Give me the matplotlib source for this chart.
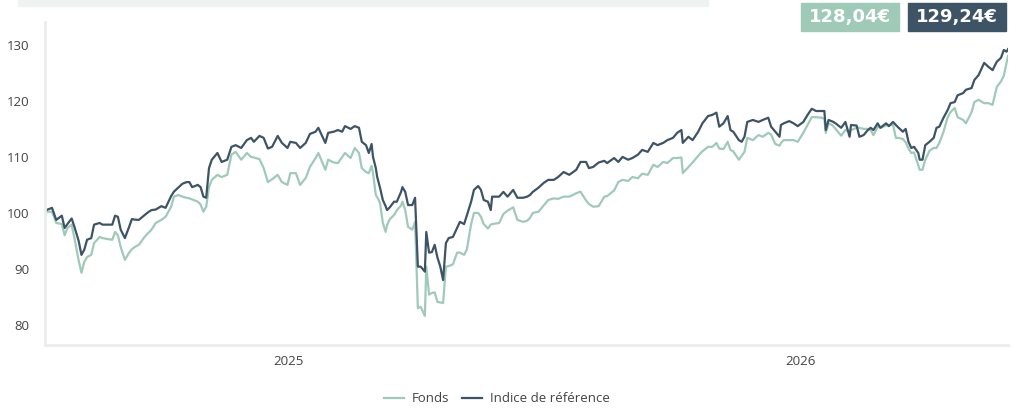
import pandas as pd
import matplotlib.pyplot as plt
from matplotlib.patches import Rectangle

# days since the first point (2024-07-11)
debut = "2024-07-11"
jours = [0, 1, 5, 8, 12, 14, 16, 19, 21, 24, 26, 28, 30, 33, 35, 39, 41, 45, 48, 50,
         52, 54, 57, 60, 62, 64, 67, 71, 74, 76, 79, 83, 86, 90, 92, 95, 98, 101, 103, 105,
         109, 111, 113, 115, 117, 119, 123, 126, 130, 133, 136, 140, 144, 147, 149, 153, 156, 159, 162, 166,
         169, 173, 175, 179, 182, 186, 189, 193, 195, 198, 200, 202, 206, 209, 212, 214, 218, 221, 224, 226,
         229, 231, 233, 234, 236, 237, 239, 241, 243, 244, 246, 249, 251, 254, 255, 257, 259, 262, 264, 266,
         268, 271, 272, 274, 276, 278, 280, 282, 284, 286, 288, 291, 294, 296, 299, 301, 304, 306, 309, 311,
         313, 316, 318, 319, 324, 327, 330, 334, 337, 341, 344, 346, 348, 352, 356, 359, 363, 366, 370, 374,
         379, 382, 386, 388, 391, 395, 399, 401, 406, 409, 412, 416, 419, 423, 426, 430, 434, 437, 441, 444,
         448, 451, 454, 455, 459, 462, 466, 469, 473, 476, 479, 481, 484, 487, 489, 491, 495, 497, 499, 501,
         505, 509, 512, 516, 518, 521, 524, 525, 527, 531, 534, 537, 541, 544, 547, 550, 554, 556, 557, 559,
         562, 564, 568, 571, 574, 575, 579, 581, 584, 587, 589, 591, 594, 596, 600, 602, 605, 607, 609, 612,
         614, 616, 618, 620, 623, 624, 626, 628, 631, 634, 636, 638, 641, 644, 646, 649, 651, 655, 657, 661,
         663, 666, 670, 673, 676, 679, 682, 684, 686, 687]

indice = [100.2, 100.5, 100.9, 98.75, 99.5, 97.3, 98.0, 99.0, 97.5, 95.0, 92.5, 93.4, 95.2, 95.5, 97.9, 98.2, 97.9, 97.9, 97.9, 99.5,
          99.3, 97.0, 95.5, 97.5, 98.9, 98.8, 98.75, 99.6, 100.2, 100.5, 100.6, 101.2, 100.9, 103.0, 103.8, 104.5, 105.2, 105.5, 105.5, 104.6,
          105.0, 104.6, 102.9, 102.7, 108.0, 109.5, 110.7, 109.1, 109.5, 111.8, 112.1, 111.6, 113.0, 113.4, 112.7, 113.75, 113.4, 111.5, 111.8, 113.75,
          112.5, 111.6, 112.7, 112.5, 111.6, 112.5, 114.1, 114.5, 115.2, 113.6, 112.5, 114.3, 114.5, 114.8, 114.5, 115.5, 115.0, 115.5, 115.2, 112.7,
          112.1, 110.7, 112.3, 110.0, 108.0, 106.4, 104.5, 102.3, 101.2, 100.5, 101.0, 102.0, 102.0, 103.75, 104.6, 103.75, 101.4, 101.4, 102.7, 90.4,
          90.4, 89.5, 96.6, 92.9, 93.0, 94.3, 92.0, 90.4, 88.0, 94.6, 95.5, 95.7, 97.3, 98.4, 98.0, 99.6, 102.0, 104.1, 104.8, 104.1,
          102.3, 102.0, 100.5, 102.9, 102.9, 103.75, 102.9, 104.1, 102.7, 102.7, 102.9, 103.2, 103.75, 104.5, 105.4, 105.9, 105.9, 106.4, 107.3, 106.8,
          107.7, 109.1, 109.1, 108.0, 108.2, 109.0, 109.3, 108.9, 109.8, 109.1, 110.0, 109.5, 109.8, 110.4, 111.25, 110.9, 112.5, 112.1, 112.5, 113.0,
          113.4, 114.3, 114.8, 112.5, 113.6, 113.0, 114.5, 116.0, 117.3, 117.5, 117.9, 115.4, 116.0, 117.3, 114.8, 114.5, 113.0, 112.7, 113.6, 116.25,
          116.6, 116.25, 116.6, 117.0, 115.4, 114.5, 113.6, 115.7, 116.0, 116.4, 116.0, 115.5, 116.25, 117.5, 118.6, 118.2, 118.2, 118.2, 114.8, 116.6,
          116.3, 116.0, 115.2, 116.25, 113.6, 115.7, 115.6, 113.6, 113.9, 114.8, 115.2, 114.8, 116.0, 115.2, 116.0, 115.5, 116.25, 115.7, 115.2, 114.5,
          115.0, 112.7, 111.6, 111.8, 110.7, 109.5, 109.5, 112.1, 112.7, 113.4, 115.2, 115.4, 117.0, 118.4, 119.6, 119.8, 121.0, 121.4, 122.0, 122.3,
          123.75, 124.6, 126.8, 126.1, 125.5, 127.0, 127.7, 129.1, 128.8, 129.24]

fonds = [100.0, 100.2, 100.2, 98.2, 98.0, 96.0, 97.3, 97.9, 95.5, 91.5, 89.3, 91.25, 92.1, 92.5, 94.6, 95.7, 95.5, 95.3, 95.2, 96.6,
         96.0, 93.9, 91.6, 92.9, 93.5, 93.9, 94.3, 95.7, 96.5, 97.0, 98.2, 98.75, 99.3, 101.1, 102.9, 103.2, 102.9, 102.7, 102.6, 102.4,
         102.0, 101.5, 100.2, 101.1, 104.6, 105.9, 106.8, 106.4, 106.8, 110.4, 110.9, 109.5, 110.7, 110.0, 109.9, 109.6, 108.0, 105.5, 106.0, 106.8,
         105.5, 105.0, 107.1, 107.1, 105.0, 106.25, 108.2, 109.8, 110.7, 108.9, 107.7, 109.5, 109.0, 108.9, 110.0, 110.7, 109.8, 111.6, 110.7, 108.0,
         107.3, 107.1, 108.4, 107.1, 103.2, 102.8, 101.8, 98.2, 96.6, 97.8, 98.9, 99.6, 100.5, 101.3, 102.0, 100.5, 97.5, 97.0, 98.4, 83.0,
         83.2, 81.6, 90.4, 85.4, 85.7, 85.8, 84.1, 84.0, 83.9, 90.4, 90.5, 90.8, 92.9, 92.9, 92.5, 93.5, 98.0, 100.0, 100.0, 99.3,
         98.0, 97.2, 97.9, 98.0, 98.2, 99.8, 100.4, 101.0, 98.75, 98.4, 98.6, 99.1, 100.0, 100.2, 101.4, 102.3, 102.6, 102.5, 102.9, 102.9,
         103.5, 103.8, 102.2, 101.6, 101.1, 101.2, 102.9, 103.0, 104.0, 105.5, 105.9, 105.7, 106.4, 106.2, 107.0, 106.8, 108.6, 108.2, 109.1, 108.9,
         109.8, 109.8, 109.9, 107.1, 108.2, 109.0, 110.2, 111.0, 111.8, 111.8, 112.5, 111.5, 111.4, 112.7, 111.25, 111.0, 109.5, 110.2, 110.9, 113.4,
         113.0, 113.9, 113.6, 114.3, 114.0, 112.3, 112.0, 112.5, 113.0, 113.0, 113.0, 112.7, 114.3, 115.7, 117.1, 117.1, 117.0, 116.8, 114.3, 116.0,
         115.6, 115.0, 113.8, 114.8, 114.6, 114.8, 115.2, 115.2, 115.0, 115.0, 114.8, 113.9, 115.4, 115.2, 115.6, 115.7, 115.7, 113.4, 113.4, 113.2,
         112.6, 111.5, 110.7, 110.8, 108.5, 107.7, 107.7, 109.5, 111.1, 111.6, 111.6, 112.5, 114.5, 117.1, 118.0, 118.75, 117.1, 116.6, 116.0, 118.0,
         119.8, 120.2, 119.6, 119.6, 119.3, 122.5, 123.5, 124.5, 126.8, 128.04]

annees = ["2025-01-01", "2026-01-01"]
annees_labels = ["2025", "2026"]
yticks = [80, 90, 100, 110, 120, 130]
derniers = ["128,04€", "129,24€"]

dates = pd.Timestamp(debut) + pd.to_timedelta(jours, unit="D")
vert = "#9fcab8"
bleu = "#3d5466"

plt.rcParams["font.family"] = ["Open Sans", "DejaVu Sans"]

W, H = 1013, 408
fig = plt.figure(figsize=(W / 100, H / 100), dpi=100)
ax = fig.add_axes([45 / W, 1 - 345 / H, 963 / W, 323 / H])

ax.plot(dates, fonds, color=vert, lw=1.6, label="Fonds")
ax.plot(dates, indice, color=bleu, lw=1.6, label="Indice de référence")

ax.set_xlim(dates[0], dates[-1])
ax.set_ylim(76.4, 134.1)
ax.set_yticks(yticks)
ax.set_xticks(pd.to_datetime(annees))
ax.set_xticklabels(annees_labels)
ax.tick_params(length=0, labelsize=9.5, colors="#444444")
ax.tick_params(axis="y", pad=11)
ax.tick_params(axis="x", pad=7)
for s in ["top", "right"]:
    ax.spines[s].set_visible(False)
for s in ["left", "bottom"]:
    ax.spines[s].set_color("#ececec")
    ax.spines[s].set_linewidth(2)

# grey strip at top-left
fig.patches.append(Rectangle((18 / W, 1 - 6 / H), 690 / W, 6 / H,
                             transform=fig.transFigure, color="#eef3f2", zorder=0))

# last value boxes
for x0, txt, c in [(801, derniers[0], vert), (908, derniers[1], bleu)]:
    fig.patches.append(Rectangle((x0 / W, 1 - 31 / H), 98 / W, 28 / H,
                                 transform=fig.transFigure, color=c, zorder=0))
    fig.text((x0 + 49) / W, 1 - 17 / H, txt, ha="center", va="center", color="white",
             fontsize=13, fontweight="bold", family="DejaVu Sans")

fig.legend(loc="center", bbox_to_anchor=(497 / W, 1 - 399 / H), ncol=2, frameon=False,
           fontsize=9.5, handlelength=1.5, handletextpad=0.6, columnspacing=1.0,
           labelcolor="#444444")

fig.savefig("out.png", dpi=100)
